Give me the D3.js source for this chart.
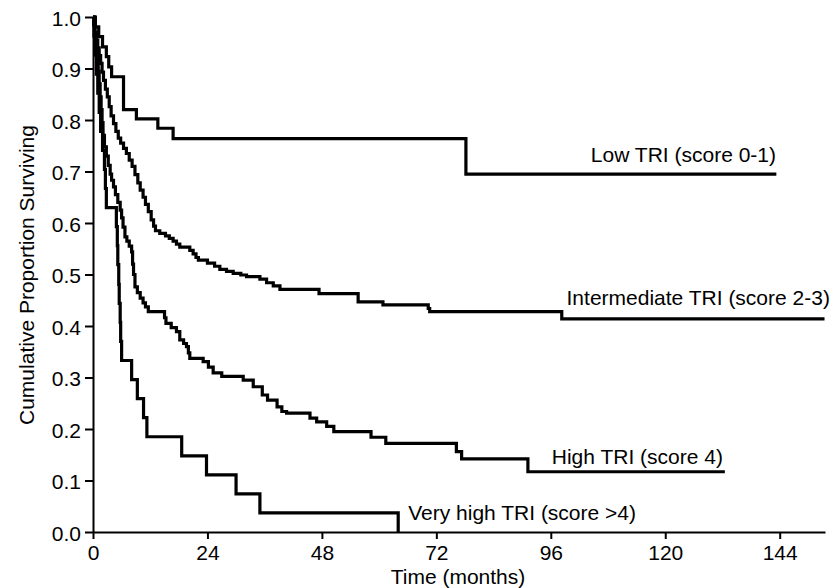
<!DOCTYPE html>
<html>
<head>
<meta charset="utf-8">
<script src="https://cdnjs.cloudflare.com/ajax/libs/d3/7.8.5/d3.min.js"></script>
<style>
  html, body { margin: 0; padding: 0; background: #fff; }
  svg { display: block; font-family: "Liberation Sans", Arial, Helvetica, sans-serif; }
</style>
</head>
<body>
<svg id="chart" width="840" height="588"></svg>
<script>
// Kaplan-Meier estimates: [time (months), proportion surviving]
const lowTRI = [
  [0, 1], [0.5, 0.981], [1.2, 0.962], [2.0, 0.942], [2.8, 0.923], [3.3, 0.903],
  [3.9, 0.884], [6.4, 0.82], [9.1, 0.802], [13.6, 0.784], [16.8, 0.764],
  [78.2, 0.695], [143.3, 0.695]
];

const intermediateTRI = [
  [0, 1], [0.2, 0.985], [0.4, 0.97], [0.7, 0.955], [1.0, 0.94], [1.3, 0.925],
  [1.6, 0.91], [1.9, 0.893], [2.2, 0.877], [2.6, 0.86], [3.0, 0.845], [3.4, 0.826],
  [3.8, 0.808], [4.3, 0.793], [4.8, 0.778], [5.3, 0.765], [5.8, 0.755], [6.4, 0.745],
  [7.0, 0.735], [7.6, 0.722], [8.2, 0.71], [8.8, 0.694], [9.4, 0.678], [9.9, 0.664],
  [10.5, 0.65], [11.0, 0.636], [11.6, 0.622], [12.2, 0.606], [12.7, 0.594],
  [13.1, 0.585], [14.0, 0.58], [15.2, 0.575], [16.0, 0.57], [16.8, 0.565],
  [17.5, 0.559], [18.2, 0.553], [20.3, 0.547], [21.0, 0.54], [21.6, 0.533],
  [22.1, 0.528], [24.0, 0.522], [25.5, 0.516], [26.6, 0.51], [28.0, 0.506],
  [29.4, 0.502], [31.0, 0.499], [32.2, 0.496], [35.0, 0.491], [36.4, 0.484],
  [37.8, 0.478], [39.2, 0.471], [47.4, 0.463], [55.6, 0.447], [60.8, 0.441],
  [70.3, 0.434], [70.6, 0.428], [98.3, 0.414], [153.4, 0.414]
];

const highTRI = [
  [0, 1], [0.2, 0.985], [0.4, 0.965], [0.7, 0.945], [0.9, 0.92], [1.1, 0.895],
  [1.3, 0.87], [1.5, 0.845], [1.7, 0.82], [1.9, 0.795], [2.1, 0.77], [2.4, 0.748],
  [2.8, 0.73], [3.2, 0.712], [3.6, 0.695], [3.9, 0.683], [4.3, 0.67], [4.7, 0.655],
  [5.2, 0.64], [5.7, 0.625], [6.0, 0.61], [6.3, 0.592], [6.7, 0.573], [7.1, 0.565],
  [7.6, 0.555], [8.1, 0.544], [8.3, 0.52], [8.5, 0.5], [8.8, 0.476], [9.3, 0.465],
  [9.9, 0.454], [10.5, 0.445], [11.0, 0.437], [11.6, 0.428], [15.0, 0.416],
  [15.3, 0.405], [16.4, 0.397], [17.5, 0.389], [18.2, 0.373], [19.0, 0.366],
  [19.6, 0.36], [20.0, 0.348], [20.3, 0.337], [23.1, 0.331], [24.2, 0.32],
  [25.2, 0.309], [27.0, 0.302], [31.5, 0.295], [33.6, 0.282], [35.5, 0.266],
  [36.6, 0.256], [38.6, 0.243], [39.6, 0.234], [40.6, 0.231], [45.5, 0.221],
  [46.9, 0.214], [49.0, 0.205], [50.5, 0.195], [58.3, 0.184], [61.4, 0.172],
  [76.2, 0.156], [77.3, 0.142], [91.2, 0.117], [132.5, 0.117]
];

const veryHighTRI = [
  [0, 1], [0.2, 0.963], [0.4, 0.926], [0.7, 0.889], [1.0, 0.852], [1.3, 0.815],
  [1.6, 0.778], [2.0, 0.741], [2.4, 0.704], [2.6, 0.667], [2.8, 0.63], [4.9, 0.593],
  [5.1, 0.556], [5.2, 0.519], [5.4, 0.481], [5.5, 0.444], [5.7, 0.407], [5.8, 0.37],
  [6.0, 0.333], [8.1, 0.296], [9.3, 0.259], [10.6, 0.222], [11.3, 0.185],
  [18.6, 0.148], [23.8, 0.111], [30.0, 0.074], [35.0, 0.037], [64.0, 0]
];

const seriesNames = [
  'Low TRI (score 0-1)',
  'Intermediate TRI (score 2-3)',
  'High TRI (score 4)',
  'Very high TRI (score >4)'
];

const xTicks = [0, 24, 48, 72, 96, 120, 144];
const yTicks = [0, 0.1, 0.2, 0.3, 0.4, 0.5, 0.6, 0.7, 0.8, 0.9, 1.0];

const xTitle = 'Time (months)';
const yTitle = 'Cumulative Proportion Surviving';

// Layout
const plot = { left: 93, right: 825, top: 17, bottom: 532 };
const xMax = 153.5;
// label anchors in data units (time, survival)
const labelAnchors = [[104.4, 0.719], [99.3, 0.441], [96.2, 0.133], [66.1, 0.023]];
const fontSize = 21;

const svg = d3.select('#chart');

const x = d3.scaleLinear().domain([0, xMax]).range([plot.left, plot.right]);
const y = d3.scaleLinear().domain([0, 1]).range([plot.bottom, plot.top]);

// X axis
const xAxis = svg.append('g')
  .attr('transform', `translate(0,${plot.bottom})`)
  .call(d3.axisBottom(x).tickValues(xTicks).tickSize(7).tickSizeOuter(0).tickPadding(6).tickFormat(d3.format('d')));

// Y axis
const yAxis = svg.append('g')
  .attr('transform', `translate(${plot.left},0)`)
  .call(d3.axisLeft(y).tickValues(yTicks).tickSize(8).tickSizeOuter(0).tickPadding(4).tickFormat(d3.format('.1f')));

[xAxis, yAxis].forEach(g => {
  g.select('.domain').attr('stroke', '#000').attr('stroke-width', 2);
  g.selectAll('.tick line').attr('stroke', '#000').attr('stroke-width', 2);
  g.selectAll('.tick text')
    .attr('fill', '#000')
    .attr('font-size', fontSize)
    .attr('font-family', '"Liberation Sans", Arial, Helvetica, sans-serif');
});
yAxis.selectAll('.tick text').attr('dy', '0.4em');

// Survival curves (step functions)
const line = d3.line()
  .x(d => x(d[0]))
  .y(d => y(d[1]))
  .curve(d3.curveStepAfter);

[lowTRI, intermediateTRI, highTRI, veryHighTRI].forEach(series => {
  svg.append('path')
    .datum(series)
    .attr('d', line)
    .attr('fill', 'none')
    .attr('stroke', '#000')
    .attr('stroke-width', 3.2)
    .attr('stroke-linejoin', 'miter');
});

// Curve labels
svg.selectAll('.curve-label')
  .data(seriesNames)
  .enter()
  .append('text')
  .attr('class', 'curve-label')
  .attr('x', (d, i) => x(labelAnchors[i][0]))
  .attr('y', (d, i) => y(labelAnchors[i][1]))
  .attr('font-size', fontSize)
  .attr('fill', '#000')
  .text(d => d);

// Axis titles
svg.append('text')
  .attr('x', 458)
  .attr('y', 584)
  .attr('text-anchor', 'middle')
  .attr('font-size', fontSize)
  .text(xTitle);

svg.append('text')
  .attr('transform', 'translate(34,275) rotate(-90)')
  .attr('text-anchor', 'middle')
  .attr('font-size', fontSize)
  .text(yTitle);
</script>
</body>
</html>
